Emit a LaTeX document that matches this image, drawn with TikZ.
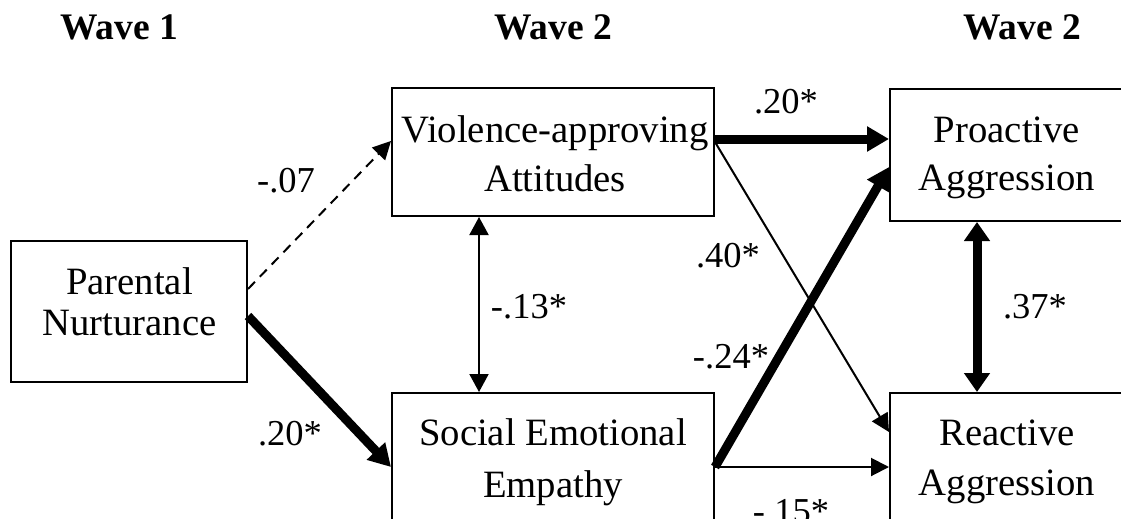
\documentclass[tikz,border=0pt]{standalone}
\usepackage{fontspec}
\setmainfont{Liberation Serif}
\usetikzlibrary{arrows.meta,calc}
\begin{document}
\begin{tikzpicture}[x=1pt,y=-1pt,
  box/.style={draw,line width=2pt,inner sep=0pt},
  txt/.style={anchor=base,inner sep=0pt,font=\fontsize{38.7}{42}\selectfont},
  lab/.style={anchor=base,inner sep=0pt,font=\fontsize{36.5}{40}\selectfont},
  wave/.style={anchor=base,inner sep=0pt,font=\fontsize{37.5}{40}\selectfont\bfseries},
  thin/.style={line width=2pt,-{Triangle[length=18pt,width=18pt]}},
  thinboth/.style={line width=2pt,{Triangle[length=18pt,width=19pt]}-{Triangle[length=18pt,width=19pt]}},
  thick/.style={line width=9pt,-{Triangle[length=22pt,width=24pt]}},
  thickboth/.style={line width=9pt,{Triangle[length=19pt,width=25pt]}-{Triangle[length=19pt,width=25pt]}},
  dsh/.style={line width=2pt,dash pattern=on 10pt off 7pt,-{Triangle[length=18pt,width=18pt]}}]
\useasboundingbox (0,0) rectangle (1121,519);
\clip (0,0) rectangle (1121,519);
\fill[white] (0,0) rectangle (1121,519);

% titles
\node[wave] (w1) at (119,40) {Wave 1};
\node[wave] (w2) at (553,40) {Wave 2};
\node[wave] (w3) at (1022,40) {Wave 2};

% boxes
\node[box,minimum width=236pt,minimum height=141pt] (par) at (129,311.5) {};
\node[box,minimum width=322pt,minimum height=128pt] (vio) at (553,152) {};
\node[box,minimum width=322pt,minimum height=160pt] (soc) at (553,473) {};
\node[box,minimum width=250pt,minimum height=132pt] (pro) at (1015,155) {};
\node[box,minimum width=250pt,minimum height=160pt] (rea) at (1015,473) {};

% box texts
\node[txt] (parA) at (129.5,294) {Parental};
\node[txt] (parB) at (129.5,335) {Nurturance};
\node[txt] (vioA) at (555,142) {Violence-approving};
\node[txt] (vioB) at (555,191) {Attitudes};
\node[txt] (socA) at (553,445) {Social Emotional};
\node[txt] (socB) at (553,497) {Empathy};
\node[txt] (proA) at (1007,142) {Proactive};
\node[txt] (proB) at (1007,190) {Aggression};
\node[txt] (reaA) at (1007,445) {Reactive};
\node[txt] (reaB) at (1007,495) {Aggression};

% connectors
\draw[dsh] ($(par.north east)+(0,49)$) -- ($(vio.north west)+(0,54)$);
\draw[thick] ($(par.north east)+(0,76)$) -- ($(soc.north west)+(0,75)$);
\draw[thinboth] ($(vio.south west)+(88,0)$) -- ($(soc.north west)+(88,0)$);
\draw[thick] ($(vio.north east)+(0,52)$) -- ($(pro.north west)+(0,51)$);
\draw[thin] ($(vio.north east)+(0,55)$) -- ($(rea.north west)+(0,40)$);
\draw[thick] ($(soc.north east)+(0,75)$) -- ($(pro.north west)+(0,79)$);
\draw[thin] ($(soc.north east)+(0,75)$) -- ($(rea.north west)+(0,75)$);
\draw[thickboth] ($(pro.south west)+(88,0)$) -- ($(rea.north west)+(88,0)$);

% coefficient labels
\node[lab] (l1) at (286,192) {-.07};
\node[lab] (l2) at (290,445) {.20*};
\node[lab] (l3) at (529,318) {-.13*};
\node[lab] (l4) at (786,113) {.20*};
\node[lab] (l5) at (728,267) {.40*};
\node[lab] (l6) at (731,368) {-.24*};
\node[lab] (l7) at (1035,318) {.37*};
\node[lab] (l8) at (791,523) {-.15*};
\end{tikzpicture}
\end{document}
